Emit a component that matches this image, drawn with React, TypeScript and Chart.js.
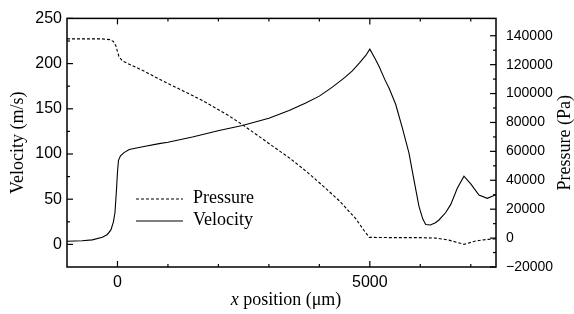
import React, { useEffect, useRef } from "react";
import { Chart, registerables } from "chart.js";
Chart.register(...registerables);

// ---- data (x in µm) ----
const velocityX = [-1000, -700, -500, -300, -200, -130, -80, -50, -20, 0, 20, 60, 130, 232, 500, 826, 1000, 1485, 2014, 2475, 3000, 3400, 3730, 4000, 4257, 4500, 4653, 4800, 4920, 5000, 5100, 5182, 5300, 5380, 5512, 5644, 5776, 5875, 5974, 6050, 6107, 6200, 6300, 6370, 6500, 6602, 6733, 6865, 7000, 7162, 7327, 7500];
const velocityY = [3.5, 4, 5, 8, 11, 16, 25, 35, 60, 80, 93, 98, 101.5, 105, 108, 111.5, 113, 118.8, 126, 131.5, 139.5, 148, 156.5, 164, 174, 184.5, 192, 201, 209, 216, 206, 197, 182, 173, 155, 129, 101, 71, 42, 28, 22, 21.5, 24, 27, 35, 44, 62, 75.5, 67, 54.5, 51, 55];
const pressureX = [-1000, -300, -150, -80, -30, 0, 30, 100, 500, 826, 1354, 1683, 2212, 2475, 2939, 3400, 3730, 4059, 4390, 4720, 4900, 4990, 5500, 6000, 6305, 6568, 6865, 7097, 7300, 7500];
const pressureY = [137800, 137800, 137300, 136000, 133000, 129000, 125500, 122500, 116000, 110000, 100900, 95200, 84500, 78500, 67000, 55600, 46500, 36500, 26000, 13500, 4500, 500, 300, 300, 0, -1400, -4300, -2000, -1000, -500];

const seriesNames = ["Pressure", "Velocity"];

// ---- tick labels ----
const xTickLabels = [0, 5000];
const xMinorTicks = [1000, 2000, 3000, 4000, 6000, 7000];
const velocityTickLabels = [0, 50, 100, 150, 200, 250];
const velocityMinorTicks = [25, 75, 125, 175, 225];
const pressureTickLabels = [-20000, 0, 20000, 40000, 60000, 80000, 100000, 120000, 140000];
const pressureMinorTicks = [-10000, 10000, 30000, 50000, 70000, 90000, 110000, 130000];

const SANS = "'Liberation Sans', Arial, sans-serif";
const SERIF = "'Liberation Serif', 'Times New Roman', serif";

const fmt = (v: number) => (v < 0 ? "\u2212" + String(Math.abs(v)) : String(v));

export default function App() {
  const ref = useRef<HTMLCanvasElement>(null);

  useEffect(() => {
    document.body.style.margin = "0";
    const canvas = ref.current!;

    const framePlugin = {
      id: "originFrame",
      afterDraw(chart: any) {
        const { ctx, chartArea: a, scales } = chart;
        ctx.save();
        const line = (x1: number, y1: number, x2: number, y2: number) => {
          ctx.beginPath();
          ctx.moveTo(x1, y1);
          ctx.lineTo(x2, y2);
          ctx.stroke();
        };
        ctx.strokeStyle = "#000";
        ctx.lineWidth = 1.5;
        ctx.setLineDash([]);
        ctx.strokeRect(a.left, a.top, a.right - a.left, a.bottom - a.top);

        const MAJ = 6, MIN = 3;
        ctx.lineWidth = 1.2;
        for (const v of xTickLabels) {
          const p = scales.x.getPixelForValue(v);
          line(p, a.bottom, p, a.bottom - MAJ);
          line(p, a.top, p, a.top + MAJ);
        }
        for (const v of xMinorTicks) {
          const p = scales.x.getPixelForValue(v);
          line(p, a.bottom, p, a.bottom - MIN);
          line(p, a.top, p, a.top + MIN);
        }
        for (const v of velocityTickLabels) {
          const p = scales.y.getPixelForValue(v);
          line(a.left, p, a.left + MAJ, p);
        }
        for (const v of velocityMinorTicks) {
          const p = scales.y.getPixelForValue(v);
          line(a.left, p, a.left + MIN, p);
        }
        for (const v of pressureTickLabels) {
          const p = scales.y1.getPixelForValue(v);
          line(a.right, p, a.right - MAJ, p);
        }
        for (const v of pressureMinorTicks) {
          const p = scales.y1.getPixelForValue(v);
          line(a.right, p, a.right - MIN, p);
        }

        // axis titles
        ctx.fillStyle = "#000";
        ctx.textBaseline = "middle";
        const midY = (a.top + a.bottom) / 2;
        ctx.font = `18px ${SERIF}`;
        ctx.textAlign = "center";
        ctx.save();
        ctx.translate(18, midY);
        ctx.rotate(-Math.PI / 2);
        ctx.fillText("Velocity (m/s)", 0, 0);
        ctx.restore();
        ctx.save();
        ctx.translate(565, midY);
        ctx.rotate(-Math.PI / 2);
        ctx.fillText("Pressure (Pa)", 0, 0);
        ctx.restore();

        // x title with italic x
        ctx.textAlign = "left";
        ctx.font = `italic 18px ${SERIF}`;
        const w1 = ctx.measureText("x").width;
        ctx.font = `18px ${SERIF}`;
        const rest = " position (\u03BCm)";
        const w2 = ctx.measureText(rest).width;
        const cx = (a.left + a.right) / 2 + 4.5;
        const x0 = cx - (w1 + w2) / 2;
        const ty = 300;
        ctx.font = `italic 18px ${SERIF}`;
        ctx.fillText("x", x0, ty);
        ctx.font = `18px ${SERIF}`;
        ctx.fillText(rest, x0 + w1, ty);

        // legend
        const ds = chart.data.datasets;
        const legendY = [199, 221];
        ds.forEach((d: any, i: number) => {
          ctx.strokeStyle = d.borderColor;
          ctx.lineWidth = d.borderWidth;
          ctx.setLineDash(d.borderDash || []);
          line(136, legendY[i], 183, legendY[i]);
          ctx.setLineDash([]);
          ctx.fillStyle = "#000";
          ctx.font = `18px ${SERIF}`;
          ctx.textAlign = "left";
          ctx.textBaseline = "middle";
          ctx.fillText(d.label, 193, legendY[i] - 1);
        });
        ctx.restore();
      },
    };

    const chart = new Chart(canvas, {
      type: "line",
      data: {
        datasets: [
          {
            label: seriesNames[0],
            data: pressureX.map((x, i) => ({ x, y: pressureY[i] })),
            yAxisID: "y1",
            borderColor: "#000",
            borderWidth: 1.1,
            borderDash: [3, 2],
            pointRadius: 0,
            tension: 0,
            fill: false,
          },
          {
            label: seriesNames[1],
            data: velocityX.map((x, i) => ({ x, y: velocityY[i] })),
            yAxisID: "y",
            borderColor: "#000",
            borderWidth: 1.1,
            pointRadius: 0,
            tension: 0,
            fill: false,
          },
        ],
      },
      options: {
        animation: false,
        responsive: false,
        devicePixelRatio: 1,
        layout: { padding: { top: 15, left: 0, right: 0, bottom: 0 } },
        plugins: { legend: { display: false }, tooltip: { enabled: false }, title: { display: false } },
        scales: {
          x: {
            type: "linear",
            min: -1000,
            max: 7500,
            afterBuildTicks: (s: any) => {
              s.ticks = xTickLabels.map((v) => ({ value: v }));
            },
            afterFit: (s: any) => {
              s.height = 47;
            },
            grid: { display: false, drawTicks: false },
            border: { display: false },
            ticks: {
              font: { family: SANS, size: 16 },
              color: "#000",
              padding: 6,
              maxRotation: 0,
              autoSkip: false,
              callback: (v: any) => fmt(Number(v)),
            },
          },
          y: {
            type: "linear",
            position: "left",
            min: -25,
            max: 250,
            afterBuildTicks: (s: any) => {
              s.ticks = velocityTickLabels.map((v) => ({ value: v }));
            },
            afterFit: (s: any) => {
              s.width = 67;
            },
            grid: { display: false, drawTicks: false },
            border: { display: false },
            ticks: {
              font: { family: SANS, size: 16 },
              color: "#000",
              padding: 5,
              autoSkip: false,
              callback: (v: any) => fmt(Number(v)),
            },
          },
          y1: {
            type: "linear",
            position: "right",
            min: -20000,
            max: 152000,
            afterBuildTicks: (s: any) => {
              s.ticks = pressureTickLabels.map((v) => ({ value: v }));
            },
            afterFit: (s: any) => {
              s.width = 78;
            },
            grid: { display: false, drawTicks: false },
            border: { display: false },
            ticks: {
              font: { family: SANS, size: 14 },
              color: "#000",
              padding: 10,
              autoSkip: false,
              callback: (v: any) => fmt(Number(v)),
            },
          },
        },
      } as any,
      plugins: [framePlugin],
    });
    return () => chart.destroy();
  }, []);

  return (
    <div style={{ width: 574, height: 314 }}>
      <canvas ref={ref} width={574} height={314} style={{ display: "block" }} />
    </div>
  );
}
